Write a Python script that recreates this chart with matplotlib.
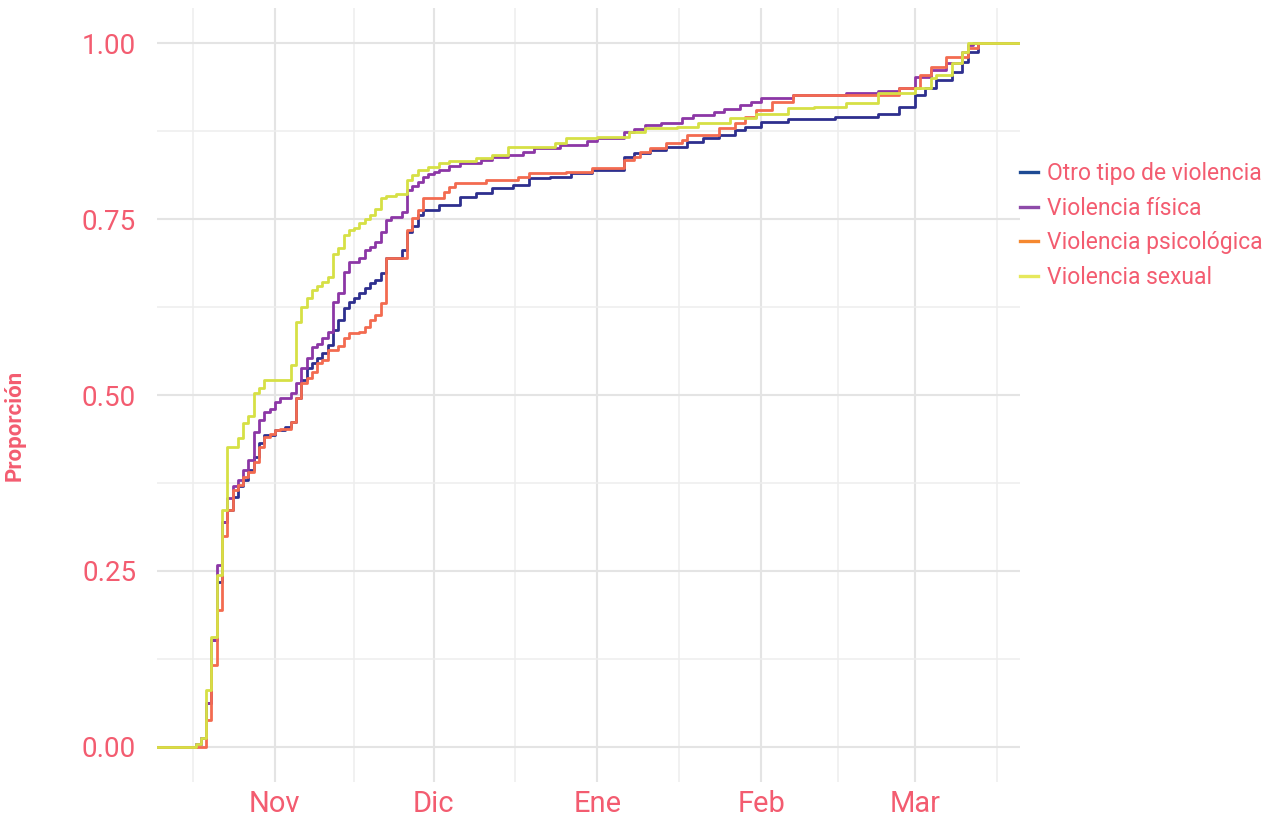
import numpy as np
import pandas as pd
import matplotlib
matplotlib.use('Agg')
import matplotlib.pyplot as plt
import matplotlib.dates as mdates
from matplotlib.lines import Line2D

# ______ data (ECDF steps) ______
otro_fechas = ['2023-10-17', '2023-10-18', '2023-10-19', '2023-10-20', '2023-10-21', '2023-10-22',
               '2023-10-23', '2023-10-24', '2023-10-25', '2023-10-26', '2023-10-27', '2023-10-28',
               '2023-10-29', '2023-10-30', '2023-11-01', '2023-11-03', '2023-11-04', '2023-11-05',
               '2023-11-06', '2023-11-07', '2023-11-08', '2023-11-09', '2023-11-10', '2023-11-11',
               '2023-11-12', '2023-11-13', '2023-11-14', '2023-11-15', '2023-11-16', '2023-11-17',
               '2023-11-18', '2023-11-19', '2023-11-20', '2023-11-21', '2023-11-22', '2023-11-25',
               '2023-11-26', '2023-11-27', '2023-11-28', '2023-11-29', '2023-12-02', '2023-12-06',
               '2023-12-09', '2023-12-12', '2023-12-16', '2023-12-19', '2023-12-23', '2023-12-27',
               '2023-12-31', '2024-01-06', '2024-01-08', '2024-01-11', '2024-01-14', '2024-01-18',
               '2024-01-21', '2024-01-24', '2024-01-27', '2024-01-29', '2024-02-01', '2024-02-06',
               '2024-02-15', '2024-02-23', '2024-02-27', '2024-03-01', '2024-03-03', '2024-03-05',
               '2024-03-08', '2024-03-10', '2024-03-11', '2024-03-13']
otro_prop = [0.004, 0.012, 0.062, 0.152, 0.234, 0.32,
             0.336, 0.355, 0.37, 0.379, 0.393, 0.412,
             0.432, 0.443, 0.45, 0.455, 0.462, 0.496,
             0.521, 0.538, 0.545, 0.553, 0.56, 0.571,
             0.592, 0.607, 0.623, 0.632, 0.638, 0.645,
             0.652, 0.659, 0.664, 0.673, 0.694, 0.706,
             0.731, 0.74, 0.756, 0.763, 0.77, 0.781,
             0.787, 0.794, 0.798, 0.808, 0.81, 0.815,
             0.82, 0.838, 0.844, 0.848, 0.852, 0.86,
             0.865, 0.869, 0.876, 0.881, 0.888, 0.892,
             0.895, 0.9, 0.909, 0.926, 0.937, 0.947,
             0.959, 0.973, 0.987, 1.0]

fisica_fechas = ['2023-10-17', '2023-10-18', '2023-10-19', '2023-10-20', '2023-10-21', '2023-10-22',
                 '2023-10-23', '2023-10-24', '2023-10-25', '2023-10-26', '2023-10-27', '2023-10-28',
                 '2023-10-29', '2023-10-30', '2023-10-31', '2023-11-01', '2023-11-02', '2023-11-04',
                 '2023-11-05', '2023-11-06', '2023-11-07', '2023-11-08', '2023-11-09', '2023-11-10',
                 '2023-11-11', '2023-11-12', '2023-11-13', '2023-11-14', '2023-11-15', '2023-11-17',
                 '2023-11-18', '2023-11-19', '2023-11-20', '2023-11-21', '2023-11-22', '2023-11-23',
                 '2023-11-25', '2023-11-26', '2023-11-27', '2023-11-28', '2023-11-29', '2023-11-30',
                 '2023-12-01', '2023-12-02', '2023-12-04', '2023-12-06', '2023-12-10', '2023-12-12',
                 '2023-12-15', '2023-12-18', '2023-12-20', '2023-12-25', '2023-12-30', '2024-01-01',
                 '2024-01-06', '2024-01-08', '2024-01-10', '2024-01-13', '2024-01-17', '2024-01-19',
                 '2024-01-23', '2024-01-25', '2024-01-28', '2024-01-30', '2024-02-01', '2024-02-07',
                 '2024-02-17', '2024-02-23', '2024-02-27', '2024-03-01', '2024-03-04', '2024-03-07',
                 '2024-03-10', '2024-03-11', '2024-03-12']
fisica_prop = [0.004, 0.012, 0.062, 0.152, 0.259, 0.32,
               0.354, 0.37, 0.379, 0.393, 0.408, 0.447,
               0.464, 0.476, 0.48, 0.49, 0.496, 0.503,
               0.517, 0.538, 0.553, 0.568, 0.573, 0.581,
               0.59, 0.632, 0.645, 0.675, 0.689, 0.695,
               0.706, 0.71, 0.717, 0.731, 0.749, 0.753,
               0.76, 0.791, 0.797, 0.803, 0.81, 0.814,
               0.817, 0.82, 0.825, 0.83, 0.834, 0.838,
               0.841, 0.845, 0.851, 0.855, 0.861, 0.865,
               0.874, 0.878, 0.884, 0.886, 0.893, 0.898,
               0.902, 0.906, 0.912, 0.916, 0.922, 0.926,
               0.929, 0.932, 0.937, 0.952, 0.962, 0.972,
               0.987, 0.997, 1.0]

psico_fechas = ['2023-10-19', '2023-10-20', '2023-10-21', '2023-10-22', '2023-10-23', '2023-10-24',
                '2023-10-25', '2023-10-26', '2023-10-27', '2023-10-28', '2023-10-29', '2023-10-30',
                '2023-10-31', '2023-11-01', '2023-11-02', '2023-11-04', '2023-11-05', '2023-11-06',
                '2023-11-07', '2023-11-08', '2023-11-09', '2023-11-10', '2023-11-11', '2023-11-13',
                '2023-11-14', '2023-11-15', '2023-11-17', '2023-11-18', '2023-11-19', '2023-11-20',
                '2023-11-21', '2023-11-22', '2023-11-26', '2023-11-27', '2023-11-28', '2023-11-29',
                '2023-12-03', '2023-12-04', '2023-12-05', '2023-12-11', '2023-12-17', '2023-12-19',
                '2023-12-26', '2023-12-31', '2024-01-06', '2024-01-08', '2024-01-09', '2024-01-11',
                '2024-01-14', '2024-01-17', '2024-01-18', '2024-01-24', '2024-01-27', '2024-01-29',
                '2024-01-31', '2024-02-03', '2024-02-07', '2024-02-27', '2024-03-02', '2024-03-04',
                '2024-03-07', '2024-03-11', '2024-03-13']
psico_prop = [0.038, 0.116, 0.195, 0.30, 0.336, 0.365,
              0.372, 0.383, 0.39, 0.405, 0.426, 0.44,
              0.445, 0.45, 0.452, 0.462, 0.496, 0.517,
              0.524, 0.532, 0.545, 0.55, 0.564, 0.57,
              0.581, 0.588, 0.59, 0.597, 0.607, 0.614,
              0.631, 0.695, 0.734, 0.751, 0.763, 0.78,
              0.788, 0.795, 0.801, 0.805, 0.81, 0.815,
              0.817, 0.822, 0.834, 0.838, 0.845, 0.851,
              0.858, 0.862, 0.869, 0.879, 0.886, 0.895,
              0.905, 0.916, 0.926, 0.937, 0.955, 0.966,
              0.98, 0.993, 1.0]

sexual_fechas = ['2023-10-17', '2023-10-18', '2023-10-19', '2023-10-20', '2023-10-21', '2023-10-22',
                 '2023-10-23', '2023-10-25', '2023-10-26', '2023-10-27', '2023-10-28', '2023-10-29',
                 '2023-10-30', '2023-11-04', '2023-11-05', '2023-11-06', '2023-11-07', '2023-11-08',
                 '2023-11-09', '2023-11-10', '2023-11-11', '2023-11-12', '2023-11-13', '2023-11-14',
                 '2023-11-15', '2023-11-16', '2023-11-17', '2023-11-18', '2023-11-19', '2023-11-20',
                 '2023-11-21', '2023-11-22', '2023-11-24', '2023-11-26', '2023-11-27', '2023-11-28',
                 '2023-11-30', '2023-12-02', '2023-12-04', '2023-12-09', '2023-12-12', '2023-12-15',
                 '2023-12-24', '2023-12-26', '2024-01-01', '2024-01-07', '2024-01-10', '2024-01-16',
                 '2024-01-20', '2024-01-26', '2024-01-31', '2024-02-06', '2024-02-11', '2024-02-17',
                 '2024-02-23', '2024-03-01', '2024-03-04', '2024-03-05', '2024-03-08', '2024-03-10',
                 '2024-03-11']
sexual_prop = [0.004, 0.013, 0.081, 0.156, 0.244, 0.337,
               0.426, 0.439, 0.46, 0.47, 0.503, 0.51,
               0.521, 0.543, 0.604, 0.625, 0.638, 0.649,
               0.655, 0.66, 0.668, 0.70, 0.709, 0.727,
               0.734, 0.738, 0.744, 0.75, 0.756, 0.765,
               0.78, 0.783, 0.785, 0.805, 0.812, 0.82,
               0.824, 0.83, 0.832, 0.837, 0.841, 0.852,
               0.858, 0.865, 0.866, 0.874, 0.879, 0.881,
               0.886, 0.893, 0.90, 0.908, 0.91, 0.915,
               0.929, 0.937, 0.95, 0.955, 0.972, 0.987,
               1.0]

series = ['Otro tipo de violencia', 'Violencia física', 'Violencia psicológica', 'Violencia sexual']
line_colors = ['#2E2F8E', '#8C37A6', '#F36B50', '#D6E045']
key_colors = ['#1D4A94', '#8E4BA9', '#F5882F', '#E6E85C']
mes_labels = ['Nov', 'Dic', 'Ene', 'Feb', 'Mar']
mes_fechas = ['2023-11-01', '2023-12-01', '2024-01-01', '2024-02-01', '2024-03-01']

text_col = '#F35C70'
grid_col = '#E4E4E4'

# ______ plot ______
plt.rcParams['font.family'] = ['Roboto', 'DejaVu Sans']
fig = plt.figure(figsize=(12.74, 8.16), dpi=100)
ax = fig.add_axes([157 / 1274, 34 / 816, 863 / 1274, 774 / 816])

x_min = pd.Timestamp('2023-10-09 17:00')
x_max = pd.Timestamp('2024-03-20 22:00')

data = [(otro_fechas, otro_prop), (fisica_fechas, fisica_prop),
        (psico_fechas, psico_prop), (sexual_fechas, sexual_prop)]
for (fechas, prop), col in zip(data, line_colors):
    xs = [x_min] + list(pd.to_datetime(fechas)) + [x_max]
    ys = [0.0] + list(prop) + [1.0]
    ax.step(xs, ys, where='post', color=col, lw=2.0, zorder=3)

ax.set_xlim(x_min, x_max)
ax.set_ylim(-0.05, 1.05)

# grid: major on month starts, minor halfway between
majors = pd.to_datetime(mes_fechas)
month_starts = pd.date_range('2023-10-01', '2024-04-01', freq='MS')
minors = [month_starts[i] + (month_starts[i + 1] - month_starts[i]) / 2 for i in range(len(month_starts) - 1)]
ax.set_xticks(majors)
ax.set_xticklabels(mes_labels)
ax.set_xticks(minors, minor=True)
ax.set_yticks([0, 0.25, 0.5, 0.75, 1.0])
ax.set_yticklabels(['0.00', '0.25', '0.50', '0.75', '1.00'])
ax.set_yticks([0.125, 0.375, 0.625, 0.875], minor=True)
ax.grid(which='major', color=grid_col, lw=1.5, zorder=0)
ax.grid(which='minor', color='#EEEEEE', lw=1.1, zorder=0)
ax.tick_params(which='both', length=0)
ax.tick_params(axis='x', labelsize=21, labelcolor=text_col, pad=6)
ax.tick_params(axis='y', labelsize=20, labelcolor=text_col, pad=15)
for s in ax.spines.values():
    s.set_visible(False)

fig.text(15 / 1274, 1 - 425 / 816, 'Proporción', rotation=90, ha='center', va='center',
         fontsize=16, fontweight='bold', color=text_col)

handles = [Line2D([0], [0], color=c, lw=2.4) for c in key_colors]
leg = fig.legend(handles, series, loc='upper left', bbox_to_anchor=(1011 / 1274, 1 - 153 / 816),
                 frameon=False, fontsize=16.5, handlelength=0.78, handletextpad=0.38,
                 labelspacing=0.5, borderaxespad=0)
for t in leg.get_texts():
    t.set_color(text_col)

plt.savefig('out.png', dpi=100)
